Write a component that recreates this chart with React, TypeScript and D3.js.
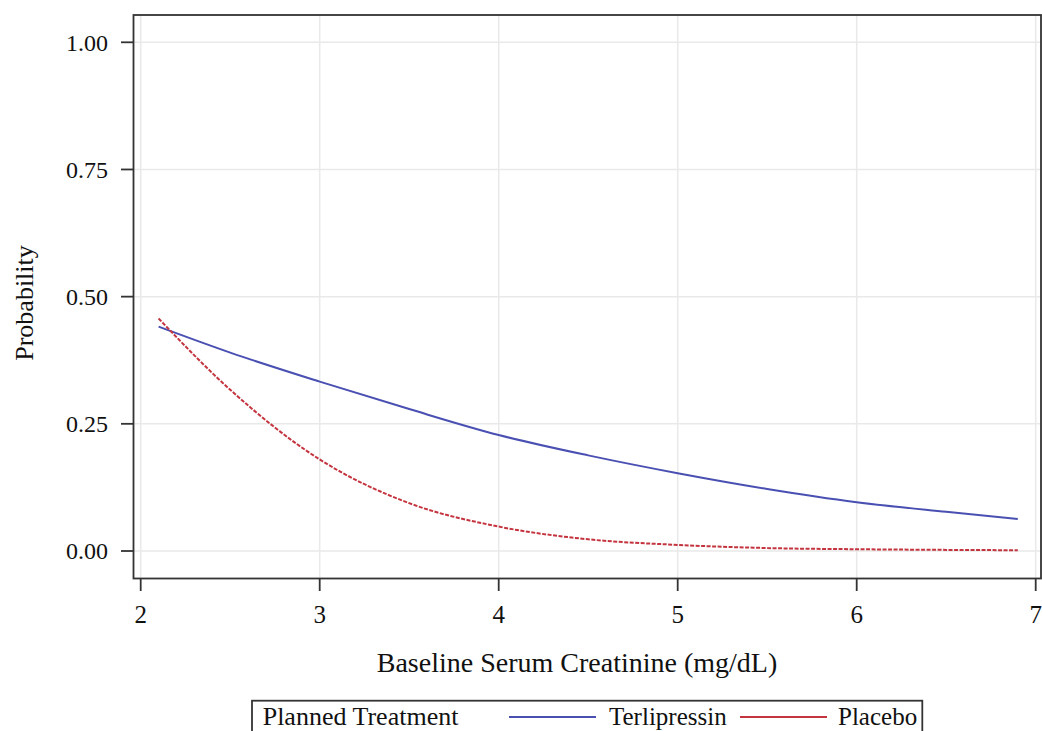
import React from "react";
import * as d3 from "d3";

const W = 1042;
const H = 731;

const xTicks = [2, 3, 4, 5, 6, 7];
const yTicks = [0, 0.25, 0.5, 0.75, 1.0];
const yTickLabels = ["0.00", "0.25", "0.50", "0.75", "1.00"];

const creatinine = [2.1, 2.5, 3.0, 3.5, 4.0, 4.5, 5.0, 5.5, 6.0, 6.5, 6.9];
const terlipressin = [0.441, 0.39, 0.333, 0.279, 0.228, 0.188, 0.153, 0.122, 0.096, 0.077, 0.063];
const placebo = [0.457, 0.317, 0.18, 0.094, 0.048, 0.023, 0.012, 0.0058, 0.0035, 0.0022, 0.0015];

const seriesNames = ["Terlipressin", "Placebo"];
const seriesColors = ["#4a50b2", "#c4343f"];
const legendTitle = "Planned Treatment";
const xTitle = "Baseline Serum Creatinine (mg/dL)";
const yTitle = "Probability";

const FONT = "'Times New Roman', 'Liberation Serif', serif";

export default function App() {
  const frame = { left: 133.5, top: 15, right: 1041, bottom: 578.5 };
  const x = d3.scaleLinear().domain([2, 7]).range([140.7, 1035.7]);
  const y = d3.scaleLinear().domain([0, 1]).range([551, 42.3]);

  const line = d3
    .line<[number, number]>()
    .x((d) => x(d[0]))
    .y((d) => y(d[1]))
    .curve(d3.curveMonotoneX);

  const tData: [number, number][] = creatinine.map((c, i) => [c, terlipressin[i]]);
  const pData: [number, number][] = creatinine.map((c, i) => [c, placebo[i]]);

  const gridColor = "#e9e9e9";
  const axisColor = "#333";
  const legendBaseline = 724.5;
  const legendFont = 25;

  return (
    <svg
      width={W}
      height={H}
      style={{ position: "absolute", left: 0, top: 0, background: "#fff" }}
      fontFamily={FONT}
    >
      {/* gridlines */}
      {xTicks.map((t) => (
        <line key={"gx" + t} x1={x(t)} x2={x(t)} y1={frame.top} y2={frame.bottom} stroke={gridColor} strokeWidth={1.5} />
      ))}
      {yTicks.map((t) => (
        <line key={"gy" + t} x1={frame.left} x2={frame.right} y1={y(t)} y2={y(t)} stroke={gridColor} strokeWidth={1.5} />
      ))}

      {/* curves */}
      <path d={line(tData) || ""} fill="none" stroke={seriesColors[0]} strokeWidth={2} />
      <path d={line(pData) || ""} fill="none" stroke={seriesColors[1]} strokeWidth={2} strokeDasharray="4 1.5" />

      {/* frame */}
      <rect
        x={frame.left}
        y={frame.top}
        width={frame.right - frame.left}
        height={frame.bottom - frame.top}
        fill="none"
        stroke={axisColor}
        strokeWidth={1.8}
      />

      {/* y axis ticks */}
      {yTicks.map((t, i) => (
        <g key={"yt" + t}>
          <line x1={121} x2={frame.left} y1={y(t)} y2={y(t)} stroke={axisColor} strokeWidth={1.8} />
          <text x={108} y={y(t)} dy="0.35em" textAnchor="end" fontSize={24} fill="#111">
            {yTickLabels[i]}
          </text>
        </g>
      ))}

      {/* x axis ticks */}
      {xTicks.map((t) => (
        <g key={"xt" + t}>
          <line x1={x(t)} x2={x(t)} y1={frame.bottom} y2={591} stroke={axisColor} strokeWidth={1.8} />
          <text x={x(t)} y={623} textAnchor="middle" fontSize={25} fill="#111">
            {t}
          </text>
        </g>
      ))}

      {/* axis titles */}
      <text x={577} y={672} textAnchor="middle" fontSize={28} fill="#111">
        {xTitle}
      </text>
      <text transform={`translate(33, 303) rotate(-90)`} textAnchor="middle" fontSize={26} fill="#111">
        {yTitle}
      </text>

      {/* legend */}
      <rect x={252} y={700.7} width={670.3} height={45} fill="#fff" stroke={axisColor} strokeWidth={1.8} />
      <text x={262.7} y={legendBaseline} fontSize={legendFont + 1} fill="#111">
        {legendTitle}
      </text>
      <line x1={509} x2={596} y1={717} y2={717} stroke={seriesColors[0]} strokeWidth={2} />
      <text x={609} y={legendBaseline} fontSize={legendFont} fill="#111">
        {seriesNames[0]}
      </text>
      <line x1={740} x2={827} y1={717} y2={717} stroke={seriesColors[1]} strokeWidth={2} />
      <text x={838} y={legendBaseline} fontSize={legendFont} fill="#111">
        {seriesNames[1]}
      </text>
    </svg>
  );
}
